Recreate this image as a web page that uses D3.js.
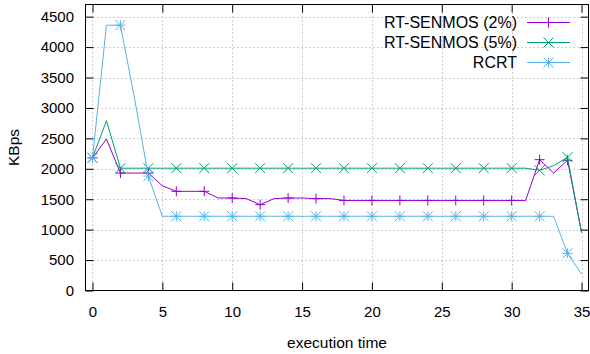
<!DOCTYPE html>
<html>
<head>
<meta charset="utf-8">
<script src="https://cdn.jsdelivr.net/npm/d3@7"></script>
<style>
body { margin: 0; background: #fff; }
svg { display: block; font-family: "Liberation Sans", Arial, sans-serif; }
</style>
</head>
<body>
<svg></svg>
<script>
// execution time steps
var time = [0, 1, 2, 3, 4, 5, 6, 7, 8, 9, 10, 11, 12, 13, 14, 15, 16, 17,
            18, 19, 20, 21, 22, 23, 24, 25, 26, 27, 28, 29, 30, 31, 32, 33, 34, 35];

var senmos2 = [2180, 2490, 1930, 1930, 1930, 1720, 1630, 1630, 1630, 1520, 1520, 1510,
               1410, 1510, 1520, 1520, 1510, 1510, 1480, 1480, 1480, 1480, 1480, 1480,
               1480, 1480, 1480, 1480, 1480, 1480, 1480, 1480, 2150, 1930, 2140, 960];

var senmos5 = [2180, 2790, 2010, 2010, 2010, 2010, 2010, 2010, 2010, 2010, 2010, 2010,
               2010, 2010, 2010, 2010, 2010, 2010, 2010, 2010, 2010, 2010, 2010, 2010,
               2010, 2010, 2010, 2010, 2010, 2010, 2010, 2010, 1975, 2050, 2190, 950];

var rcrt = [2180, 4360, 4360, 3170, 1880, 1220, 1220, 1220, 1220, 1220, 1220, 1220,
            1220, 1220, 1220, 1220, 1220, 1220, 1220, 1220, 1220, 1220, 1220, 1220,
            1220, 1220, 1220, 1220, 1220, 1220, 1220, 1220, 1220, 1220, 610, 270];

var seriesNames = ['RT-SENMOS (2%)', 'RT-SENMOS (5%)', 'RCRT'];
var xTicks = [0, 5, 10, 15, 20, 25, 30, 35];
var yTicks = [0, 500, 1000, 1500, 2000, 2500, 3000, 3500, 4000, 4500];

var svgWidth = 590, svgHeight = 354;
var plotLeft = 85.5, plotRight = 588.5, plotTop = 4.5, plotBottom = 290.5;

var svg = d3.select('svg')
  .attr('width', svgWidth)
  .attr('height', svgHeight);

var xScale = d3.scaleLinear().domain([-0.5, 35.5]).range([plotLeft, plotRight]);
var yScale = d3.scaleLinear().domain([0, 4700]).range([plotBottom, plotTop]);

var series = [
  { name: seriesNames[0], values: senmos2, color: '#9400d3', shape: 'plus' },
  { name: seriesNames[1], values: senmos5, color: '#009e73', shape: 'cross' },
  { name: seriesNames[2], values: rcrt, color: '#56b4e9', shape: 'star' }
];

// grid
var grid = svg.append('g')
  .attr('stroke', '#a0a0a0')
  .attr('stroke-width', 1)
  .attr('stroke-dasharray', '1,3');
grid.selectAll('.gx').data(xTicks).enter().append('line')
  .attr('x1', function(d){ return Math.round(xScale(d)) + 0.5; })
  .attr('x2', function(d){ return Math.round(xScale(d)) + 0.5; })
  .attr('y1', plotTop).attr('y2', plotBottom);
grid.selectAll('.gy').data(yTicks.slice(1)).enter().append('line')
  .attr('x1', plotLeft).attr('x2', plotRight)
  .attr('y1', function(d){ return Math.round(yScale(d)) + 0.5; })
  .attr('y2', function(d){ return Math.round(yScale(d)) + 0.5; });

// axes with inward ticks, mirrored
var tickLen = 8;
function styleAxis(g) {
  g.select('.domain').remove();
  g.selectAll('.tick line').attr('stroke', '#000');
  g.selectAll('.tick text').attr('fill', '#000');
  g.attr('font-size', 15).attr('font-family', null);
}
svg.append('g')
  .attr('transform', 'translate(0,' + plotBottom + ')')
  .call(d3.axisBottom(xScale).tickValues(xTicks).tickSizeInner(-tickLen).tickSizeOuter(0).tickPadding(16))
  .call(styleAxis);
svg.append('g')
  .attr('transform', 'translate(0,' + plotTop + ')')
  .call(d3.axisTop(xScale).tickValues(xTicks).tickSizeInner(-tickLen).tickSizeOuter(0).tickFormat(''))
  .call(styleAxis);
svg.append('g')
  .attr('transform', 'translate(' + plotLeft + ',0)')
  .call(d3.axisLeft(yScale).tickValues(yTicks).tickSizeInner(-tickLen).tickSizeOuter(0).tickPadding(11.5).tickFormat(d3.format('d')))
  .call(styleAxis);
svg.append('g')
  .attr('transform', 'translate(' + plotRight + ',0)')
  .call(d3.axisRight(yScale).tickValues(yTicks).tickSizeInner(-tickLen).tickSizeOuter(0).tickFormat(''))
  .call(styleAxis);

// border
svg.append('rect')
  .attr('x', plotLeft).attr('y', plotTop)
  .attr('width', plotRight - plotLeft).attr('height', plotBottom - plotTop)
  .attr('fill', 'none').attr('stroke', '#000').attr('stroke-width', 1);

// markers
var ms = 5;
function marker(g, shape, x, y, color) {
  var p = '';
  if (shape === 'plus' || shape === 'star')
    p += 'M' + (x - ms) + ',' + y + 'H' + (x + ms) + 'M' + x + ',' + (y - ms) + 'V' + (y + ms);
  if (shape === 'cross' || shape === 'star')
    p += 'M' + (x - ms) + ',' + (y - ms) + 'L' + (x + ms) + ',' + (y + ms) +
         'M' + (x - ms) + ',' + (y + ms) + 'L' + (x + ms) + ',' + (y - ms);
  g.append('path').attr('d', p).attr('stroke', color).attr('stroke-width', 1).attr('fill', 'none');
}

var line = d3.line()
  .x(function(d, i){ return xScale(time[i]); })
  .y(function(d){ return yScale(d); });

series.forEach(function(s) {
  var g = svg.append('g');
  g.append('path')
    .attr('d', line(s.values))
    .attr('fill', 'none')
    .attr('stroke', s.color)
    .attr('stroke-width', 1);
  s.values.forEach(function(v, i) {
    if (i % 2 === 0) marker(g, s.shape, xScale(time[i]), yScale(v), s.color);
  });
});

// legend
var legend = svg.append('g').attr('font-size', 16);
series.forEach(function(s, i) {
  var y = 22.5 + i * 20;
  legend.append('text')
    .attr('x', 517).attr('y', y)
    .attr('dy', '0.35em')
    .attr('text-anchor', 'end')
    .text(s.name);
  legend.append('line')
    .attr('x1', 527).attr('x2', 570)
    .attr('y1', y).attr('y2', y)
    .attr('stroke', s.color).attr('stroke-width', 1);
  marker(legend, s.shape, 548.5, y, s.color);
});

// axis titles
svg.append('text')
  .attr('x', (plotLeft + plotRight) / 2).attr('y', 343)
  .attr('dy', '0.35em')
  .attr('text-anchor', 'middle')
  .attr('font-size', 15.5)
  .text('execution time');
svg.append('text')
  .attr('transform', 'translate(14,' + (plotTop + plotBottom) / 2 + ') rotate(-90)')
  .attr('dy', '0.35em')
  .attr('text-anchor', 'middle')
  .attr('font-size', 15.5)
  .text('KBps');
</script>
</body>
</html>
